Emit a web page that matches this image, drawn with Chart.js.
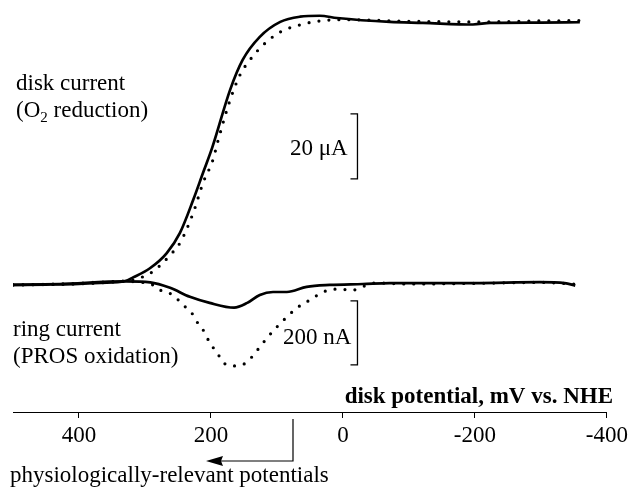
<!DOCTYPE html>
<html>

<head>
    <meta charset="utf-8" />
    <title></title>
    <style>
        body { margin: 0; background: #fff; }
        #wrap { width: 632px; height: 487px; }
    </style>
</head>

<body>
    <div id="wrap">
        <canvas id="chart" width="632" height="487"></canvas>
    </div>

    <script src="https://cdn.jsdelivr.net/npm/chart.js"></script>
    <script type="text/javascript">

        // disk potential (mV vs. NHE) and disk current (uA), solid trace
        const diskSolidMV = [500, 450, 400, 368, 330, 318, 292, 267, 247, 227, 212, 198, 171, 152, 126, 95, 65, 35, 9, -71, -121, -197, -223, -300, -359];
        const diskSolidUA = [-0.3, -0.2, 0.0, 0.3, 0.9, 2.0, 4.9, 9.5, 15.7, 25.8, 34.2, 42.0, 59.7, 68.9, 76.0, 80.6, 82.2, 82.5, 81.8, 80.6, 80.3, 79.8, 80.3, 80.4, 80.5];

        // disk current, dotted trace
        const diskDotMV = [500, 400, 350, 318, 303, 288, 273, 259, 247, 227, 212, 197, 189, 171, 156, 141, 121, 95, 65, 35, 0, -100, -200, -300, -360];
        const diskDotUA = [-0.3, 0.0, 0.6, 1.3, 2.2, 3.8, 6.5, 9.5, 12.6, 21.8, 31.1, 38.2, 44.3, 56.6, 64.3, 68.9, 73.5, 77.5, 79.7, 80.9, 81.3, 80.8, 80.6, 80.9, 81.0];

        // ring current (nA), solid trace
        const ringSolidMV = [500, 429, 330, 292, 262, 232, 202, 165, 145, 126, 106, 85, 55, 20, -30, -71, -197, -298, -336, -352];
        const ringSolidNA = [-3, 0, 8, 5, -12, -40, -59, -74, -59, -34, -25, -25, -9, -3, 0, 3, 3, 6, 3, -5];

        // ring current, dotted trace
        const ringDotMV = [500, 429, 330, 300, 288, 277, 258, 242, 229, 220, 209, 202, 191, 182, 167, 153, 138, 126, 114, 100, 85, 70, 50, 30, 9, -15, -29, -48, -100, -200, -300, -350];
        const ringDotNA = [-3, 0, 8, 4, -3, -19, -34, -66, -91, -122, -153, -184, -213, -244, -256, -253, -228, -197, -166, -134, -103, -75, -50, -25, -16, -19, -9, 3, 0, 2, 5, 0];

        const xTicks = [400, 200, 0, -200, -400];

        // scale bars: 20 uA and 200 nA
        const diskBarUA = [32.3, 52.3];
        const ringBarNA = [-53, -253];
        const barMV = -22;

        function pts(xs, ys) {
            return xs.map((x, i) => ({ x: x, y: ys[i] }));
        }

        const serif = "'Liberation Serif', 'Times New Roman', serif";

        // texts and scale bars on top of the plot
        const notes = {
            id: 'notes',
            afterDraw(chart) {
                const ctx = chart.ctx;
                const xs = chart.scales.x;
                const yd = chart.scales.yDisk;
                const yr = chart.scales.yRing;
                ctx.save();
                ctx.fillStyle = '#000';
                ctx.strokeStyle = '#000';
                ctx.textBaseline = 'alphabetic';
                ctx.font = '23px ' + serif;
                ctx.textAlign = 'left';

                ctx.fillText('disk current', 16, 90);
                ctx.fillText('(O', 16, 117);
                let w = ctx.measureText('(O').width;
                ctx.font = '15px ' + serif;
                ctx.fillText('2', 16 + w, 122);
                let w2 = ctx.measureText('2').width;
                ctx.font = '23px ' + serif;
                ctx.fillText(' reduction)', 16 + w + w2, 117);

                ctx.fillText('ring current', 13, 336);
                ctx.fillText('(PROS oxidation)', 13, 363);

                ctx.fillText('20 \u03bcA', 290, 155);
                ctx.fillText('200 nA', 283, 344);

                ctx.fillText('physiologically-relevant potentials', 10, 482);

                ctx.font = 'bold 23px ' + serif;
                ctx.textAlign = 'right';
                ctx.fillText('disk potential, mV vs. NHE', 613, 403);

                // scale bars
                ctx.lineWidth = 1.3;
                const bx = xs.getPixelForValue(barMV);
                [[yd, diskBarUA], [yr, ringBarNA]].forEach(([sc, v]) => {
                    const a = sc.getPixelForValue(v[0]);
                    const b = sc.getPixelForValue(v[1]);
                    ctx.beginPath();
                    ctx.moveTo(bx - 7, a);
                    ctx.lineTo(bx, a);
                    ctx.lineTo(bx, b);
                    ctx.lineTo(bx - 7, b);
                    ctx.stroke();
                });

                // arrow
                ctx.lineWidth = 1.2;
                ctx.beginPath();
                ctx.moveTo(293, 419);
                ctx.lineTo(293, 461);
                ctx.lineTo(215, 461);
                ctx.stroke();
                ctx.beginPath();
                ctx.moveTo(206, 461);
                ctx.lineTo(223, 456);
                ctx.lineTo(221, 461);
                ctx.lineTo(223, 466);
                ctx.closePath();
                ctx.fill();
                ctx.restore();
            }
        };

        const solid = { borderColor: '#000', borderWidth: 2.7, pointRadius: 0, fill: false, cubicInterpolationMode: 'monotone' };
        const dotted = { borderColor: '#000', borderWidth: 3.2, pointRadius: 0, fill: false, cubicInterpolationMode: 'monotone', borderDash: [0, 10], borderCapStyle: 'round' };

        const ctx = document.getElementById('chart').getContext('2d');
        const myChart = new Chart(ctx, {
            type: 'line',
            data: {
                datasets: [
                    Object.assign({ label: 'disk', data: pts(diskSolidMV, diskSolidUA), yAxisID: 'yDisk' }, solid),
                    Object.assign({ label: 'disk dotted', data: pts(diskDotMV, diskDotUA), yAxisID: 'yDisk' }, dotted),
                    Object.assign({ label: 'ring', data: pts(ringSolidMV, ringSolidNA), yAxisID: 'yRing' }, solid),
                    Object.assign({ label: 'ring dotted', data: pts(ringDotMV, ringDotNA), yAxisID: 'yRing' }, dotted)
                ]
            },
            options: {
                responsive: false,
                animation: false,
                layout: { padding: { left: 13, right: 25, top: 5, bottom: 0 } },
                plugins: { legend: { display: false }, tooltip: { enabled: false } },
                scales: {
                    x: {
                        type: 'linear',
                        position: 'bottom',
                        reverse: true,
                        min: -400,
                        max: 500,
                        afterBuildTicks: s => { s.ticks = xTicks.map(v => ({ value: v })); },
                        afterFit: s => { s.height = 75; },
                        grid: { drawOnChartArea: false, drawTicks: true, tickLength: 6, color: '#000', lineWidth: 1 },
                        border: { display: true, color: '#000', width: 1 },
                        ticks: { color: '#000', padding: 4, maxRotation: 0, autoSkip: false, font: { family: serif, size: 23 } }
                    },
                    yDisk: { type: 'linear', display: false, min: -39.4, max: 85.8 },
                    yRing: { type: 'linear', display: false, min: -400, max: 872 }
                }
            },
            plugins: [notes]
        });

    </script>

</body>

</html>
